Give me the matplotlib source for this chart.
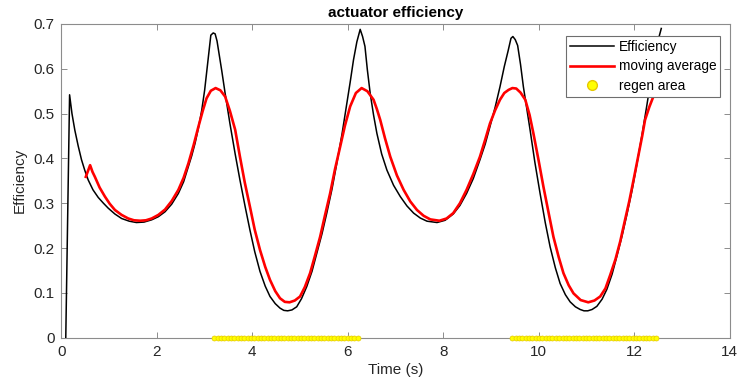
import numpy as np
import matplotlib
matplotlib.use("Agg")
import matplotlib.pyplot as plt
from matplotlib.lines import Line2D

# Efficiency samples (time in s, efficiency)
eff_t = [0.09, 0.17, 0.22, 0.28, 0.35, 0.42, 0.49, 0.56, 0.66, 0.77, 0.88, 0.98,
         1.12, 1.26, 1.42, 1.57, 1.73, 1.89, 2.03, 2.17, 2.31, 2.45, 2.56, 2.66,
         2.73, 2.80, 2.87, 2.94, 3.00, 3.04, 3.09, 3.13, 3.18, 3.22, 3.26, 3.29,
         3.36, 3.43, 3.53, 3.64, 3.74, 3.85, 3.95, 4.05, 4.16, 4.27, 4.37, 4.48,
         4.58, 4.66, 4.74, 4.83, 4.93, 5.03, 5.14, 5.25, 5.35, 5.46, 5.56, 5.67,
         5.77, 5.88, 5.98, 6.05, 6.12, 6.19, 6.26, 6.31, 6.36, 6.41, 6.47, 6.54,
         6.61, 6.71, 6.82, 6.96, 7.10, 7.24, 7.38, 7.52, 7.66, 7.87, 8.04, 8.21,
         8.35, 8.49, 8.63, 8.77, 8.88, 8.98, 9.09, 9.19, 9.28, 9.36, 9.42, 9.46,
         9.51, 9.56, 9.62, 9.68, 9.75, 9.82, 9.92, 10.03, 10.14, 10.24, 10.35, 10.45,
         10.56, 10.66, 10.77, 10.87, 10.95, 11.03, 11.12, 11.22, 11.33, 11.43, 11.54, 11.64,
         11.75, 11.85, 11.96, 12.06, 12.17, 12.27, 12.34, 12.41, 12.49, 12.57]
eff_v = [0.000, 0.542, 0.500, 0.463, 0.428, 0.397, 0.373, 0.352, 0.330, 0.313, 0.300, 0.289,
         0.276, 0.266, 0.260, 0.257, 0.258, 0.263, 0.270, 0.281, 0.298, 0.322, 0.348, 0.382,
         0.406, 0.434, 0.468, 0.508, 0.552, 0.590, 0.638, 0.675, 0.680, 0.678, 0.662, 0.642,
         0.595, 0.545, 0.478, 0.410, 0.352, 0.292, 0.240, 0.192, 0.148, 0.115, 0.092, 0.076,
         0.066, 0.061, 0.060, 0.062, 0.069, 0.087, 0.114, 0.148, 0.188, 0.232, 0.278, 0.332,
         0.389, 0.455, 0.523, 0.570, 0.620, 0.660, 0.688, 0.672, 0.650, 0.598, 0.545, 0.497,
         0.456, 0.410, 0.374, 0.340, 0.315, 0.294, 0.278, 0.267, 0.260, 0.257, 0.262, 0.276,
         0.295, 0.322, 0.355, 0.397, 0.432, 0.471, 0.515, 0.560, 0.605, 0.640, 0.668, 0.672,
         0.665, 0.652, 0.610, 0.560, 0.512, 0.464, 0.392, 0.322, 0.256, 0.203, 0.156, 0.121,
         0.096, 0.080, 0.069, 0.063, 0.060, 0.060, 0.063, 0.070, 0.086, 0.108, 0.142, 0.182,
         0.228, 0.275, 0.330, 0.388, 0.455, 0.520, 0.568, 0.615, 0.658, 0.690]

# Moving average samples
avg_t = [0.51, 0.60, 0.65, 0.70, 0.80, 0.91, 1.01, 1.12, 1.26, 1.40, 1.52, 1.65,
         1.77, 1.89, 2.03, 2.17, 2.31, 2.45, 2.56, 2.66, 2.77, 2.87, 2.96, 3.04,
         3.13, 3.23, 3.33, 3.43, 3.53, 3.64, 3.74, 3.84, 3.95, 4.05, 4.16, 4.27,
         4.37, 4.48, 4.58, 4.68, 4.78, 4.89, 5.00, 5.10, 5.21, 5.31, 5.42, 5.52,
         5.63, 5.73, 5.84, 5.94, 6.05, 6.17, 6.29, 6.41, 6.54, 6.61, 6.68, 6.78,
         6.89, 7.03, 7.17, 7.31, 7.45, 7.59, 7.73, 7.92, 8.07, 8.21, 8.35, 8.49,
         8.63, 8.77, 8.88, 8.98, 9.09, 9.19, 9.28, 9.37, 9.45, 9.53, 9.62, 9.72,
         9.81, 9.89, 10.00, 10.10, 10.21, 10.31, 10.42, 10.52, 10.63, 10.73, 10.88, 11.04,
         11.17, 11.29, 11.40, 11.50, 11.61, 11.71, 11.80, 11.90, 12.00, 12.10, 12.17, 12.23,
         12.32, 12.40, 12.48]
avg_v = [0.359, 0.385, 0.370, 0.359, 0.335, 0.315, 0.299, 0.285, 0.274, 0.266, 0.262, 0.261,
         0.262, 0.266, 0.274, 0.286, 0.305, 0.330, 0.357, 0.389, 0.430, 0.471, 0.506, 0.534,
         0.551, 0.557, 0.552, 0.538, 0.506, 0.464, 0.404, 0.347, 0.292, 0.241, 0.196, 0.158,
         0.129, 0.104, 0.088, 0.080, 0.079, 0.083, 0.092, 0.113, 0.144, 0.182, 0.225, 0.272,
         0.322, 0.375, 0.426, 0.473, 0.516, 0.546, 0.557, 0.550, 0.531, 0.510, 0.486, 0.445,
         0.404, 0.362, 0.330, 0.304, 0.285, 0.272, 0.264, 0.261, 0.266, 0.278, 0.300, 0.330,
         0.365, 0.404, 0.442, 0.478, 0.508, 0.531, 0.546, 0.553, 0.557, 0.556, 0.547, 0.531,
         0.497, 0.456, 0.395, 0.337, 0.278, 0.225, 0.180, 0.144, 0.117, 0.099, 0.084, 0.079,
         0.083, 0.092, 0.110, 0.140, 0.175, 0.215, 0.258, 0.305, 0.358, 0.412, 0.450, 0.486,
         0.515, 0.537, 0.560]

# Regenerative intervals (start, end) and sample step of the time base
regen_intervals = [(3.20, 6.27), (9.45, 12.51)]
sample_step = 0.07

x_ticks = [0, 2, 4, 6, 8, 10, 12, 14]
y_ticks = [0, 0.1, 0.2, 0.3, 0.4, 0.5, 0.6, 0.7]
y_tick_labels = ['0', '0.1', '0.2', '0.3', '0.4', '0.5', '0.6', '0.7']

plt.rcParams['font.family'] = ['Liberation Sans', 'DejaVu Sans']

fig = plt.figure(figsize=(7.38, 3.88), dpi=100)
ax = fig.add_axes([0.0833, 0.1296, 0.9052, 0.8086])

ax.plot(eff_t, eff_v, color='black', lw=1.1, label='Efficiency', zorder=3)
ax.plot(avg_t, avg_v, color='#ff0000', lw=1.9, label='moving average', zorder=4)

regen_t = np.concatenate([np.arange(a, b + 1e-9, sample_step) for a, b in regen_intervals])
ax.plot(regen_t, np.zeros_like(regen_t), linestyle='none', marker='o', ms=3.6,
        mfc='#ffff00', mec='#e6c800', mew=0.5, zorder=5, clip_on=False)

ax.set_xlim(0, 14)
ax.set_ylim(0, 0.7)
ax.set_xticks(x_ticks)
ax.set_yticks(y_ticks)
ax.set_yticklabels(y_tick_labels)

frame_col = '#8c8c8c'
for s in ax.spines.values():
    s.set_color(frame_col)
    s.set_linewidth(0.8)
ax.tick_params(direction='in', length=4, width=0.7, color=frame_col,
               top=True, right=True, labelsize=11, labelcolor='#262626', pad=5)

ax.set_title('actuator efficiency', fontsize=11, fontweight='bold', color='black', pad=5)
ax.set_xlabel('Time (s)', fontsize=11, color='#262626', labelpad=3)
ax.set_ylabel('Efficiency', fontsize=11, color='#262626', labelpad=5)

handles = [Line2D([], [], color='black', lw=1.1),
           Line2D([], [], color='#ff0000', lw=1.9),
           Line2D([], [], linestyle='none', marker='o', ms=7, mfc='#ffff00', mec='#e6c800')]
leg = ax.legend(handles, ['Efficiency', 'moving average', 'regen area'],
                loc='upper right', bbox_to_anchor=(0.9865, 0.9627), fontsize=9.8,
                frameon=True, fancybox=False, borderpad=0.3, labelspacing=0.42,
                handlelength=3.2, handletextpad=0.35, borderaxespad=0.0)
leg.get_frame().set_edgecolor('#6e6e6e')
leg.get_frame().set_linewidth(0.8)
leg.get_frame().set_alpha(1)

fig.savefig('out.png', dpi=100)
